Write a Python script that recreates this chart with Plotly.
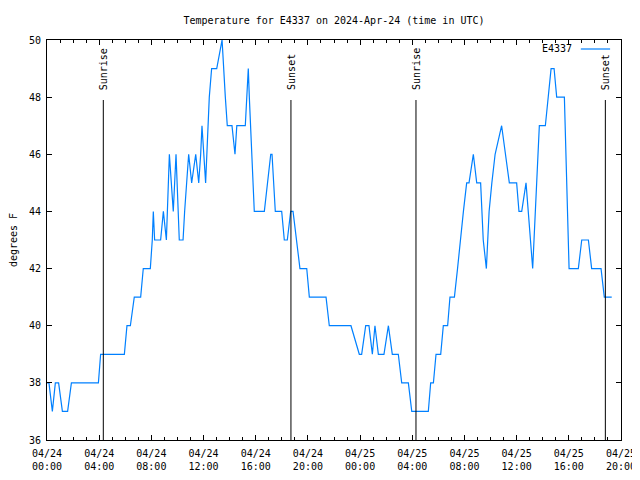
import pandas as pd
import plotly.graph_objects as go

# ---- data (hours after 2024-04-24 00:00 UTC, temperature in degrees F) ----
hours = [0.00, 0.15, 0.41, 0.64, 0.89, 1.18, 1.58, 1.87, 3.94, 4.11,
         5.93, 6.13, 6.39, 6.69, 7.18, 7.38, 7.92, 8.07, 8.15, 8.25,
         8.71, 8.92, 9.15, 9.38, 9.53, 9.68, 9.89, 10.14, 10.43, 10.55,
         10.86, 11.09, 11.40, 11.63, 11.78, 11.88, 12.16, 12.37, 12.44, 12.62,
         13.01, 13.42, 13.52, 13.67, 13.82, 14.18, 14.41, 14.55, 15.20, 15.30,
         15.43, 15.51, 15.61, 15.72, 15.82, 15.89, 16.66, 17.15, 17.25, 17.50,
         17.99, 18.19, 18.42, 18.68, 18.86, 19.14, 19.39, 19.91, 20.11, 21.39,
         21.64, 23.30, 23.94, 24.12, 24.43, 24.68, 24.94, 25.14, 25.40, 25.83,
         26.17, 26.47, 26.93, 27.19, 27.70, 27.96, 29.23, 29.41, 29.62, 29.82,
         30.18, 30.38, 30.71, 30.89, 31.23, 31.47, 31.67, 31.92, 32.17, 32.35,
         32.68, 32.94, 33.24, 33.32, 33.44, 33.68, 33.89, 34.10, 34.35, 34.85,
         35.44, 36.00, 36.18, 36.39, 36.72, 37.23, 37.74, 38.20, 38.64, 38.87,
         39.07, 39.66, 40.02, 40.73, 40.99, 41.50, 41.75, 42.47, 42.72, 43.29]
temps = [38, 38, 37, 38, 38, 37, 37, 38, 38, 39,
         39, 40, 40, 41, 41, 42, 42, 43, 44, 43,
         43, 44, 43, 46, 45, 44, 46, 43, 43, 44,
         46, 45, 46, 45, 46, 47, 45, 47, 48, 49,
         49, 50, 49, 48, 47, 47, 46, 47, 47, 48,
         49, 48, 47, 46, 45, 44, 44, 46, 46, 44,
         44, 43, 43, 44, 44, 43, 42, 42, 41, 41,
         40, 40, 39, 39, 40, 40, 39, 40, 39, 39,
         40, 39, 39, 38, 38, 37, 37, 38, 38, 39,
         39, 40, 40, 41, 41, 42, 43, 44, 45, 45,
         46, 45, 45, 44, 43, 42, 44, 45, 46, 47,
         45, 45, 44, 44, 45, 42, 47, 47, 49, 49,
         48, 48, 42, 42, 43, 43, 42, 42, 41, 41]

sun_labels = ["Sunrise", "Sunset", "Sunrise", "Sunset"]
sun_times = ["2024-04-24 04:19", "2024-04-24 18:42", "2024-04-25 04:17", "2024-04-25 18:48"]

station = "E4337"
title_text = "Temperature for E4337 on 2024-Apr-24 (time in UTC)"
y_title = "degrees F"
x_start = "2024-04-24 00:00"
x_end = "2024-04-25 20:00"

times = pd.Timestamp(x_start) + pd.to_timedelta(hours, unit="h")

FONT = "DejaVu Sans Mono"
BLUE = "rgb(0,128,255)"

# page body has an 8px default margin; size the figure to compensate
W, H = 632, 472

fig = go.Figure()
fig.add_trace(go.Scatter(x=times, y=temps, mode="lines", name=station,
                         line=dict(color=BLUE, width=1.2), showlegend=False))

for lab, t in zip(sun_labels, sun_times):
    fig.add_shape(type="line", xref="x", yref="paper", x0=t, x1=t, y0=0, y1=0.85,
                  line=dict(color="black", width=1))
    fig.add_annotation(x=t, xref="x", y=0.87, yref="paper", text=lab, textangle=-90,
                       showarrow=False, xanchor="center", yanchor="bottom",
                       font=dict(family=FONT, size=10, color="black"))

# key (gnuplot style: text then sample line)
fig.add_annotation(x=0.918, xref="paper", y=0.9775, yref="paper", text=station,
                   showarrow=False, xanchor="right", yanchor="middle",
                   font=dict(family=FONT, size=10, color="black"))
fig.add_shape(type="line", xref="paper", yref="paper", x0=0.930, x1=0.981,
              y0=0.9775, y1=0.9775, line=dict(color=BLUE, width=1.2))

fig.update_layout(
    template="none",
    width=W, height=H, autosize=False,
    margin=dict(l=39, r=19, t=32, b=40, autoexpand=False),
    paper_bgcolor="white", plot_bgcolor="white",
    font=dict(family=FONT, size=10, color="black"),
    title=dict(text=title_text, x=0.5, xref="paper", xanchor="center",
               y=1 - 12 / H, yref="container", yanchor="middle",
               font=dict(family=FONT, size=10, color="black")),
    showlegend=False,
)
fig.update_xaxes(
    type="date", range=[x_start, x_end], showgrid=False, zeroline=False, automargin=False,
    showline=True, linecolor="black", linewidth=1, mirror="allticks",
    ticks="inside", ticklen=5, tickcolor="black", tickwidth=1,
    dtick=4 * 3600 * 1000, tick0=x_start, tickformat="%m/%d<br>%H:%M",
    ticklabelstandoff=4,
    tickfont=dict(family=FONT, size=10, color="black"),
    minor=dict(dtick=3600 * 1000, ticks="inside", ticklen=3, tickcolor="black", tickwidth=1,
               showgrid=False),
)
fig.update_yaxes(
    range=[36, 50], dtick=2, showgrid=False, zeroline=False, automargin=False,
    showline=True, linecolor="black", linewidth=1, mirror="allticks",
    ticks="inside", ticklen=5, tickcolor="black", tickwidth=1,
    ticklabelstandoff=3,
    tickfont=dict(family=FONT, size=10, color="black"),
    title=dict(text=y_title, standoff=12, font=dict(family=FONT, size=10, color="black")),
)

fig.write_html("out.html")
